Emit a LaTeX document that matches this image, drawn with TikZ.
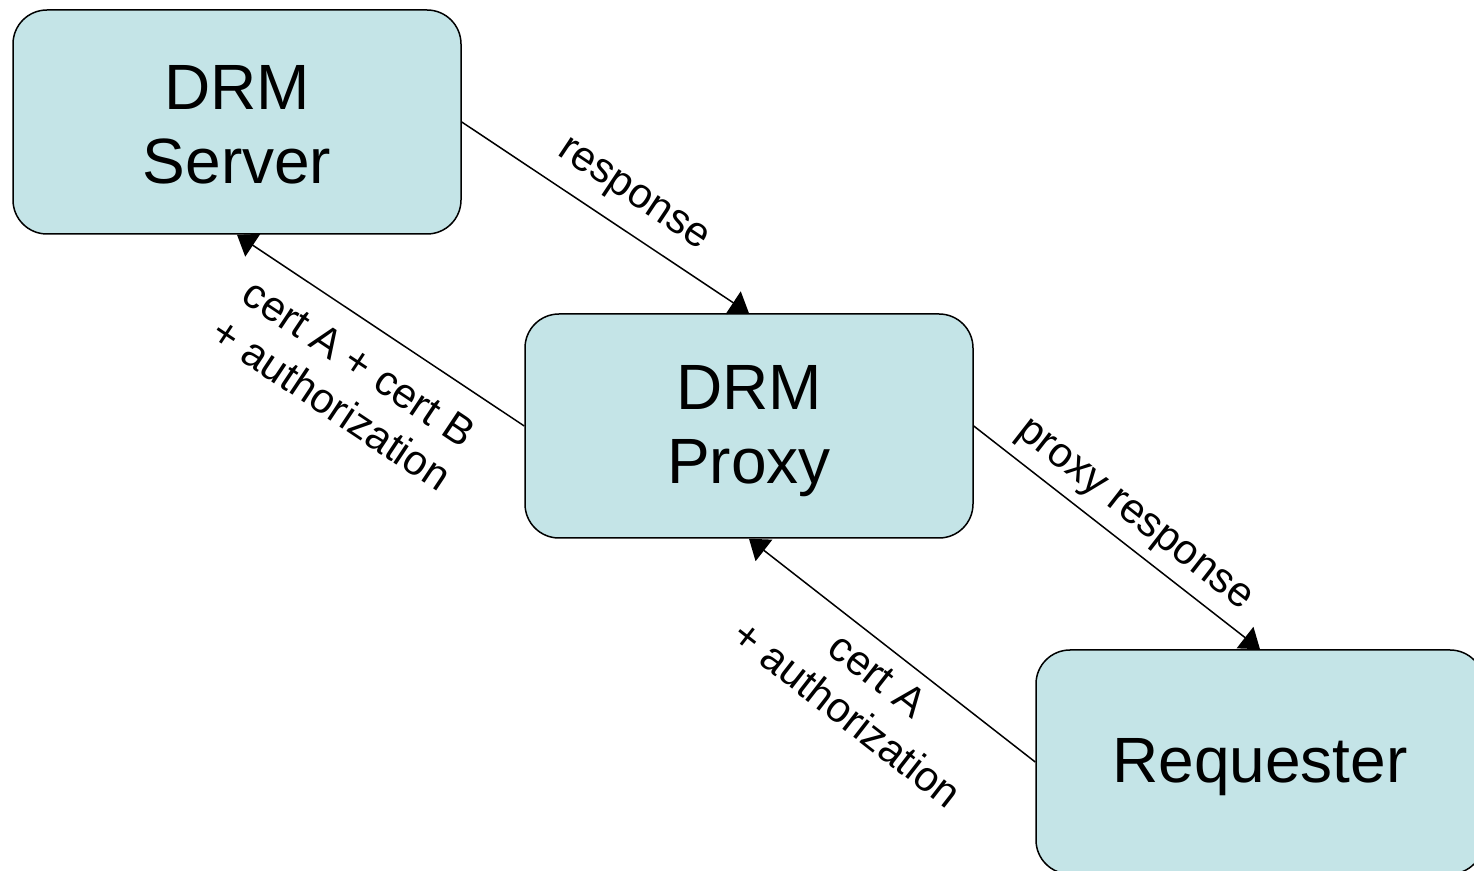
\documentclass[tikz,border=0pt]{standalone}
\usepackage{fontspec}
\setmainfont{Liberation Sans}
\usetikzlibrary{arrows.meta,positioning}
\definecolor{boxfill}{RGB}{196,228,231}

\begin{document}
\begin{tikzpicture}[x=0.5pt,y=-0.5pt,on grid,line width=0.75pt,
        >={Triangle[length=9.5pt,width=13.5pt]},
        box/.style={draw,fill=boxfill,rounded corners=17pt,minimum width=224pt,
            minimum height=112pt,align=center,text height=64pt,font=\fontsize{32}{37}\selectfont},
        lbl/.style={sloped,align=center,inner xsep=0pt,font=\fontsize{21}{25}\selectfont}]
        \clip (0,0) rectangle (1474,871);
        \node[box,text height=62pt]  (srv)   at (237,122) {DRM\\Server};
        \node[box]  (proxy) [below right=152pt and 256pt of srv] {DRM\\Proxy};
        \node[box,text height=27pt]  (req)   [below right=168pt and 255.5pt of proxy] {Requester};
        \path[->]
        (srv.east)   edge node[lbl,above,pos=0.53,inner ysep=8pt] {response}  (proxy.north)
        (proxy.west) edge node[lbl,below,inner ysep=11.75pt] {cert A + cert B\\+ authorization} (srv.south)
        (proxy.east) edge node[lbl,above,inner ysep=4.7pt] {proxy response}  (req.north)
        (req.west)   edge node[lbl,below,pos=0.49,inner ysep=6.25pt] {cert A\\+ authorization} (proxy.south)
        ;
\end{tikzpicture}
\end{document}
